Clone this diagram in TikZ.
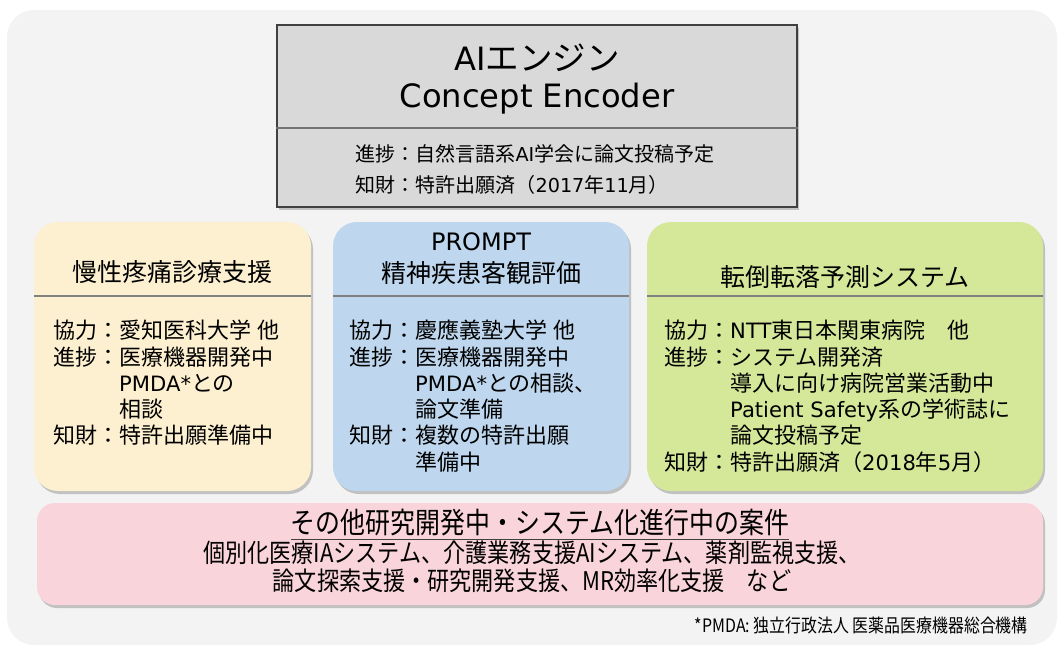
\documentclass[tikz,border=0pt]{standalone}
\usepackage{fontspec}
\setmainfont{Noto Sans CJK JP}
\newfontfamily\condfont[FakeStretch=0.86]{Noto Sans CJK JP}
\newfontfamily\latinfont[Scale=0.96]{DejaVu Sans}
\newcommand{\lat}[1]{{\latinfont #1}}
\usetikzlibrary{shapes.geometric, shadows, positioning}

\definecolor{bggray}{HTML}{F3F3F3}
\definecolor{enginegray}{HTML}{D9D9D9}
\definecolor{paincol}{HTML}{FDF0D0}
\definecolor{promptcol}{HTML}{BED7EE}
\definecolor{fallcol}{HTML}{D5E799}
\definecolor{othercol}{HTML}{F9D4DB}

\begin{document}
\begin{tikzpicture}[x=1pt, y=-1pt,
  shade/.style={drop shadow={shadow xshift=2pt, shadow yshift=-3pt, opacity=0.35, fill=black!60}},
  engine/.style={rectangle, minimum width=520pt, minimum height=182pt, draw=black!75, line width=1.6pt, fill=enginegray, shade},
  topic/.style={rectangle, rounded corners=24pt, minimum height=269pt, fill=#1, shade},
  others/.style={rectangle, rounded corners=18pt, minimum width=1006pt, minimum height=102pt, fill=othercol, shade},
  title/.style={align=center, inner sep=0pt, font=\fontsize{25}{32}\selectfont},
  body/.style={align=left, inner sep=0pt, anchor=north west, font=\fontsize{22}{26.3}\selectfont},
  divider/.style={draw=black!50, line width=1.5pt}]

  \useasboundingbox (0,0) rectangle (1060,646);
  \fill[bggray, rounded corners=27pt] (7,10) rectangle (1057,645);

  % Nodes
  \node (engine) [engine] at (537,116) {};
  \node (enginetitle) [title, font=\fontsize{33.5}{37.5}\selectfont] at (537,79) {\lat{AI}エンジン\\\lat{Concept Encoder}};
  \node (enginebody) [body, font=\fontsize{20}{31}\selectfont, anchor=center] at (535,169) {進捗：自然言語系\lat{AI}学会に論文投稿予定\\知財：特許出願済（\lat{2017}年\lat{11}月）};

  \node (pain) [topic=paincol, minimum width=277pt] at (172.5,356.5) {};
  \node (paintitle) [title] at (172.5,272) {慢性疼痛診療支援};
  \node (painbody) [body] at (53,320) {協力：愛知医科大学\hspace{6pt}他\\進捗：医療機器開発中\\\hphantom{進捗：}\lat{PMDA*}との\\\hphantom{進捗：}相談\\知財：特許出願準備中};

  \node (prompt) [topic=promptcol, minimum width=296pt] at (481,356.5) {};
  \node (prompttitle) [title] at (481,259) {\lat{PROMPT}\\精神疾患客観評価};
  \node (promptbody) [body] at (349,320) {協力：慶應義塾大学\hspace{6pt}他\\進捗：医療機器開発中\\\hphantom{進捗：}\lat{PMDA*}との相談、\\\hphantom{進捗：}論文準備\\知財：複数の特許出願\\\hphantom{知財：}準備中};

  \node (fall) [topic=fallcol, minimum width=396pt] at (845,356.5) {};
  \node (falltitle) [title] at (845,277) {転倒転落予測システム};
  \node (fallbody) [body] at (664,320) {協力：\lat{NTT}東日本関東病院　他\\進捗：システム開発済\\\hphantom{進捗：}導入に向け病院営業活動中\\\hphantom{進捗：}\lat{Patient Safety}系の学術誌に\\\hphantom{進捗：}論文投稿予定\\知財：特許出願済（\lat{2018}年\lat{5}月）};

  \node (other) [others] at (540,554) {};
  \node (othertitle) [inner sep=0pt, font=\condfont\fontsize{29}{30}\selectfont] at (540,523) {その他研究開発中・システム化進行中の案件};
  \node (otherbody) [align=center, inner sep=0pt, font=\condfont\fontsize{25.7}{28}\selectfont] at (532,567) {個別化医療IAシステム、介護業務支援AIシステム、薬剤監視支援、\\論文探索支援・研究開発支援、MR効率化支援　など};

  \node (note) [anchor=east, inner sep=0pt, font=\condfont\fontsize{18.5}{20}\selectfont] at (1028,625) {*PMDA: 独立行政法人 医薬品医療機器総合機構};

  % Lines
  \draw [divider, draw=black!55, line width=1.6pt] (engine.west |- 0,128) -- (engine.east |- 0,128);
  \draw [divider] (pain.west |- 0,296) -- (pain.east |- 0,296);
  \draw [divider] (prompt.west |- 0,296) -- (prompt.east |- 0,296);
  \draw [divider] (fall.west |- 0,296) -- (fall.east |- 0,296);
  \draw [line width=1.6pt, black!75] ([yshift=-3pt]othertitle.south west) -- ([yshift=-3pt]othertitle.south east);
\end{tikzpicture}
\end{document}
